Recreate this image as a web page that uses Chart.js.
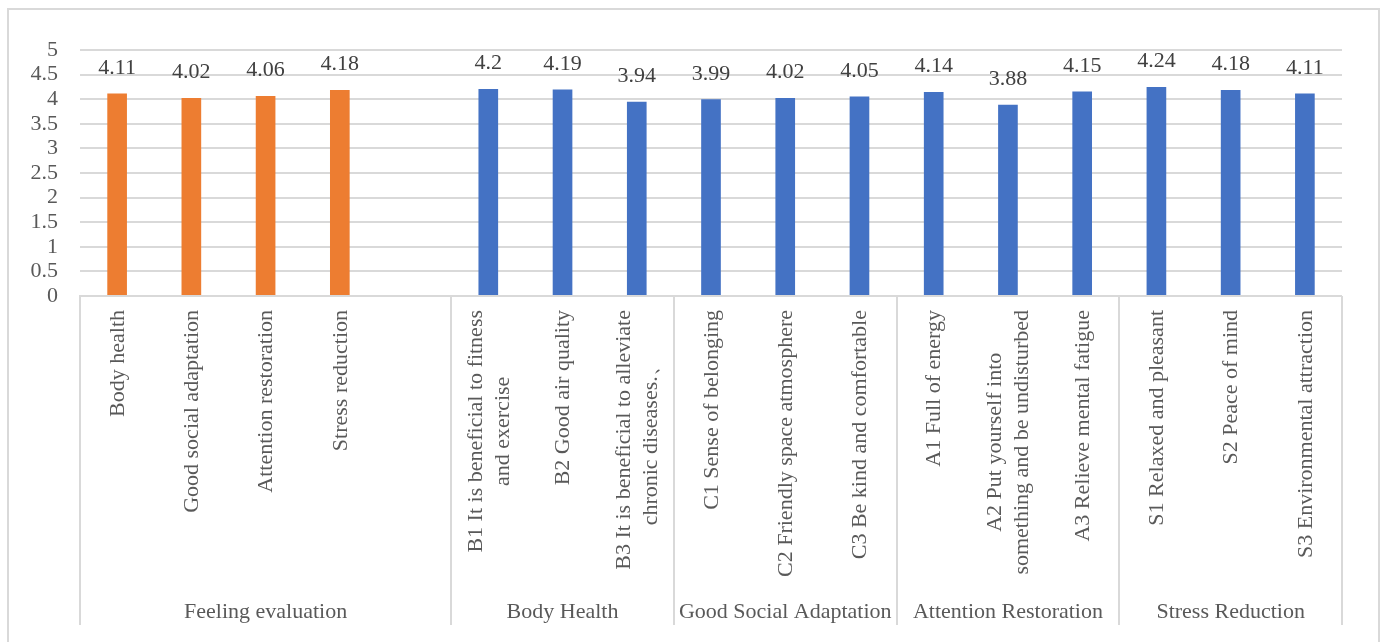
<!DOCTYPE html>
<html>
<head>
<meta charset="utf-8">
<script src="https://cdn.jsdelivr.net/npm/chart.js@4"></script>
<style>
  html, body { margin: 0; padding: 0; background: #fff; }
  #wrap { position: relative; width: 1389px; height: 642px; }
  #frame { position: absolute; left: 7px; top: 8px; width: 1373px; height: 660px; border: 2px solid #d9d9d9; box-sizing: border-box; }
  canvas { position: absolute; left: 0; top: 0; }
</style>
</head>
<body>
<div id="wrap">
  <div id="frame"></div>
  <canvas id="c" width="1389" height="642"></canvas>
</div>
<script>
// ---- data ----
const categories = [
  ["Body health"],
  ["Good social adaptation"],
  ["Attention restoration"],
  ["Stress reduction"],
  [""],
  ["B1 It is beneficial to fitness", "and exercise"],
  ["B2 Good air quality"],
  ["B3 It is beneficial to alleviate", "chronic diseases.\u3001"],
  ["C1 Sense of belonging"],
  ["C2 Friendly space atmosphere"],
  ["C3 Be kind and comfortable"],
  ["A1 Full of energy"],
  ["A2 Put yourself into", "something and be undisturbed"],
  ["A3 Relieve mental fatigue"],
  ["S1 Relaxed and pleasant"],
  ["S2 Peace of mind"],
  ["S3 Environmental attraction"]
];
const values = [4.11, 4.02, 4.06, 4.18, null, 4.2, 4.19, 3.94, 3.99, 4.02, 4.05, 4.14, 3.88, 4.15, 4.24, 4.18, 4.11];
const valueLabels = ["4.11", "4.02", "4.06", "4.18", "", "4.2", "4.19", "3.94", "3.99", "4.02", "4.05", "4.14", "3.88", "4.15", "4.24", "4.18", "4.11"];
const groupNames = ["Feeling evaluation", "Body Health", "Good Social Adaptation", "Attention Restoration", "Stress Reduction"];
const groupSizes = [5, 3, 3, 3, 3];
const seriesKind = ["o", "o", "o", "o", "", "b", "b", "b", "b", "b", "b", "b", "b", "b", "b", "b", "b"];
const yTicks = [0, 0.5, 1, 1.5, 2, 2.5, 3, 3.5, 4, 4.5, 5];

const ORANGE = "#ED7D31", BLUE = "#4472C4", GRID = "#d9d9d9", TXT = "#595959";
const FONT = "'Liberation Serif', 'Times New Roman', serif";
const FS = 22;

const labelPlugin = {
  id: "labels",
  afterDraw(chart) {
    const ctx = chart.ctx;
    const x = chart.scales.x, y = chart.scales.y;
    const area = chart.chartArea;
    const step = x.getPixelForValue(1) - x.getPixelForValue(0);
    ctx.save();
    // x axis line
    ctx.strokeStyle = GRID; ctx.lineWidth = 2;
    ctx.beginPath(); ctx.moveTo(area.left - 1, area.bottom); ctx.lineTo(area.right, area.bottom); ctx.stroke();
    // separators
    let idx = 0;
    const bounds = [0];
    groupSizes.forEach(s => { idx += s; bounds.push(idx); });
    bounds.forEach(b => {
      const px = Math.round(x.getPixelForValue(b) - step / 2);
      ctx.beginPath(); ctx.moveTo(px, area.bottom); ctx.lineTo(px, 625); ctx.stroke();
    });
    // data labels
    ctx.fillStyle = "#404040";
    ctx.font = FS + "px " + FONT;
    ctx.textAlign = "center"; ctx.textBaseline = "alphabetic";
    values.forEach((v, i) => {
      if (v === null) return;
      ctx.fillText(valueLabels[i], x.getPixelForValue(i), y.getPixelForValue(v) - 20);
    });
    // category labels (rotated)
    ctx.fillStyle = TXT;
    const lh = 27;
    categories.forEach((lines, i) => {
      const cx = x.getPixelForValue(i);
      ctx.save();
      ctx.translate(cx, 310);
      ctx.rotate(-Math.PI / 2);
      const widths = lines.map(l => ctx.measureText(l).width);
      const mw = Math.max(...widths);
      ctx.textAlign = "center"; ctx.textBaseline = "middle";
      const n = lines.length;
      lines.forEach((l, k) => {
        const off = (k - (n - 1) / 2) * lh;
        ctx.fillText(l, -mw / 2, off + 1);
      });
      ctx.restore();
    });
    // group labels
    ctx.textAlign = "center"; ctx.textBaseline = "alphabetic";
    groupNames.forEach((g, k) => {
      const a = x.getPixelForValue(bounds[k]) - step / 2;
      const b = x.getPixelForValue(bounds[k + 1]) - step / 2;
      ctx.fillText(g, (a + b) / 2, 618);
    });
    ctx.restore();
  }
};

new Chart(document.getElementById("c"), {
  type: "bar",
  data: {
    labels: categories.map(c => c.join(" ")),
    datasets: [{
      data: values,
      backgroundColor: seriesKind.map(k => k === "o" ? ORANGE : BLUE),
      barThickness: 19
    }]
  },
  options: {
    responsive: false,
    animation: false,
    devicePixelRatio: 1,
    layout: { padding: { left: 0, right: 47, top: 50, bottom: 0 } },
    plugins: { legend: { display: false }, tooltip: { enabled: false } },
    scales: {
      x: {
        grid: { display: false },
        border: { display: false },
        ticks: { display: false },
        afterFit(s) { s.height = 346; }
      },
      y: {
        min: 0, max: 5,
        afterBuildTicks(s) { s.ticks = yTicks.map(v => ({ value: v })); },
        afterFit(s) { s.width = 80; },
        grid: { color: GRID, lineWidth: 2, drawTicks: false },
        border: { display: false },
        ticks: {
          autoSkip: false,
          padding: 22,
          color: TXT,
          font: { family: FONT, size: FS, lineHeight: 1 },
          callback: v => String(v)
        }
      }
    }
  },
  plugins: [labelPlugin]
});
</script>
</body>
</html>
